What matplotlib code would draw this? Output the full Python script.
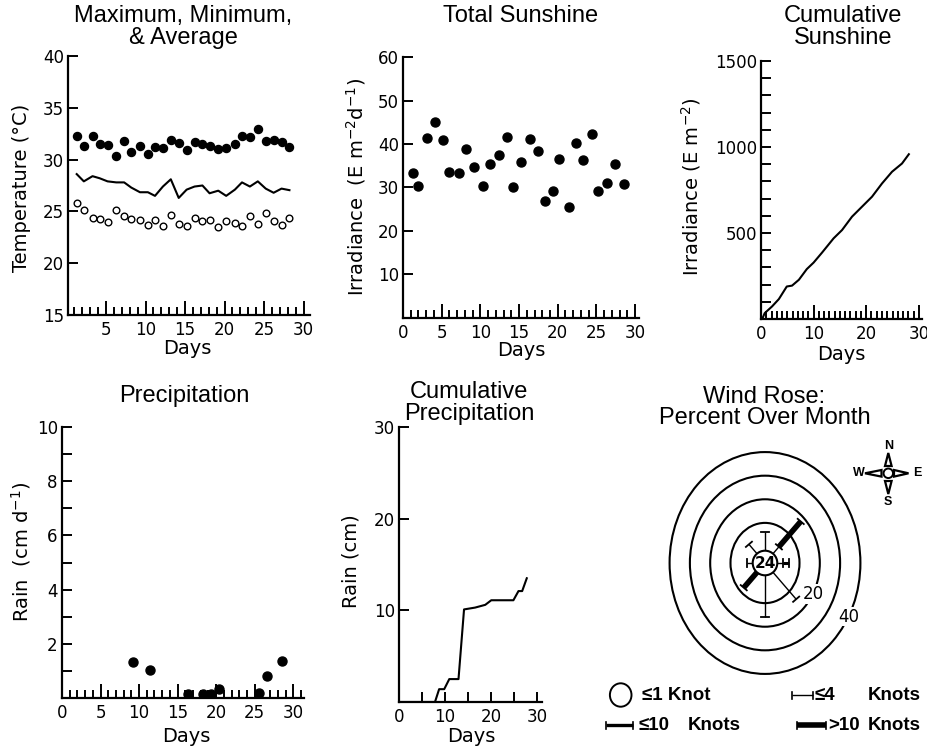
import matplotlib
matplotlib.use('Agg')
import matplotlib.pyplot as plt
from matplotlib.patches import Ellipse, Polygon
from matplotlib.ticker import FixedLocator
import numpy as np

plt.rcParams['font.family'] = ['DejaVu Sans']
plt.rcParams['mathtext.fontset'] = 'dejavusans'

W, H = 928, 748
fig = plt.figure(figsize=(W / 100, H / 100), dpi=100)

# ---------------- data ----------------
temp_days = [1.3, 2.2, 3.3, 4.2, 5.2, 6.3, 7.3, 8.2, 9.3, 10.3, 11.2, 12.2, 13.2, 14.2,
             15.2, 16.2, 17.2, 18.1, 19.2, 20.2, 21.3, 22.2, 23.2, 24.2, 25.2, 26.2, 27.2, 28.2]
temp_max = [32.25, 31.3, 32.3, 31.5, 31.45, 30.3, 31.8, 30.7, 31.3, 30.5, 31.25, 31.1, 31.9, 31.6,
            30.9, 31.7, 31.5, 31.3, 31.0, 31.1, 31.5, 32.25, 32.15, 33.0, 31.8, 31.85, 31.7, 31.2]
temp_min = [25.8, 25.15, 24.4, 24.3, 23.95, 25.1, 24.6, 24.3, 24.2, 23.7, 24.2, 23.6, 24.7, 23.8,
            23.6, 24.4, 24.1, 24.2, 23.45, 24.1, 23.85, 23.6, 24.6, 23.8, 24.8, 24.1, 23.7, 24.35]
temp_avg = [28.6, 27.9, 28.4, 28.2, 27.9, 27.8, 27.8, 27.3, 26.85, 26.85, 26.5, 27.4, 28.1, 26.3,
            27.1, 27.4, 27.5, 26.75, 27.0, 26.5, 27.1, 27.8, 27.4, 27.9, 27.2, 26.8, 27.2, 27.05]

sun_days = [1.3, 2.0, 3.1, 4.2, 5.15, 6.0, 7.3, 8.15, 9.2, 10.3, 11.3, 12.4, 13.5, 14.2,
            15.2, 16.4, 17.5, 18.3, 19.4, 20.2, 21.4, 22.3, 23.3, 24.4, 25.2, 26.4, 27.4, 28.5]
sun_daily = [33.4, 30.35, 41.3, 45.0, 41.0, 33.5, 33.3, 38.9, 34.6, 30.35, 35.3, 37.5, 41.5, 30.0,
             35.9, 41.1, 38.3, 26.9, 29.2, 36.6, 25.6, 40.3, 36.3, 42.3, 29.2, 31.0, 35.5, 30.8]

cumsun_days = [0.3, 0.7, 2.1, 3.4, 4.9, 5.9, 7.2, 8.7, 10.0, 11.6, 13.8, 15.4, 17.3, 19.2,
               21.1, 23.0, 24.9, 26.8, 28.1]
cumsun_vals = [5, 34, 73, 116, 189, 194, 228, 290, 328, 386, 469, 517, 595, 653,
               711, 788, 856, 904, 958]

rain_days = [9.2, 11.4, 16.3, 18.3, 19.3, 20.4, 25.5, 26.6, 28.5]
rain_daily = [1.33, 1.02, 0.13, 0.13, 0.13, 0.32, 0.18, 0.82, 1.35]

cumrain_days = [0.0, 7.8, 8.7, 9.8, 10.9, 12.9, 14.1, 16.5, 18.7, 20.0, 24.8, 25.9, 26.7, 27.7]
cumrain_vals = [0.0, 0.0, 1.4, 1.4, 2.5, 2.5, 10.1, 10.3, 10.6, 11.1, 11.1, 12.1, 12.1, 13.5]

# wind rose: percent of month per direction and speed class (segment lengths)
wind_dirs = ['N', 'NE', 'E', 'SE', 'S', 'SW', 'W', 'NW']
wind_angles = [90, 45, 0, -45, -90, -135, 180, 135]
wind_le4 = [6.3, 2.7, 2.0, 14.7, 15.8, 0.0, 2.0, 4.2]
wind_le10 = [0.0, 0.0, 2.8, 0.0, 0.0, 0.0, 0.0, 0.0]
wind_gt10 = [0.0, 15.2, 0.0, 0.0, 0.0, 7.8, 0.0, 0.0]
calm_pct = 24
ring_levels = [10, 20, 30, 40]
ring_labelled = [20, 40]

# ---------------- helpers ----------------
TICK = 12
LAB = 14
TITLE = 17
TFAM = ['Liberation Sans', 'DejaVu Sans']


def px_axes(l, t, r, b):
    ax = fig.add_axes([l / W, 1 - b / H, (r - l) / W, (b - t) / H])
    ax.patch.set_alpha(0)
    return ax


def style(ax, xmaj, xmin_, ymaj, ymin_, xlabels, ylabels):
    for s in ['top', 'right']:
        ax.spines[s].set_visible(False)
    for s in ['left', 'bottom']:
        ax.spines[s].set_linewidth(1.6)
    ax.xaxis.set_major_locator(FixedLocator(xmaj))
    ax.xaxis.set_minor_locator(FixedLocator(xmin_))
    ax.yaxis.set_major_locator(FixedLocator(ymaj))
    ax.yaxis.set_minor_locator(FixedLocator(ymin_))
    ax.set_xticklabels(xlabels)
    ax.set_yticklabels(ylabels)
    ax.tick_params(which='both', direction='in', width=1.4, labelsize=TICK)
    ax.tick_params(axis='x', which='major', length=10, pad=4)
    ax.tick_params(axis='x', which='minor', length=6)
    ax.tick_params(axis='y', which='both', length=7, pad=3)


def ftext(x, y, s, **kw):
    fig.text(x / W, 1 - y / H, s, **kw)


def title(x, y, s):
    ftext(x, y, s, ha='center', va='center', fontsize=TITLE, family=TFAM)


def ylab(x, y, s):
    ftext(x, y, s, ha='center', va='center', rotation=90, fontsize=LAB)


def xlab(x, y, s):
    ftext(x, y, s, ha='center', va='center', fontsize=LAB)


LW = 1.5

# ---------------- panel 1: temperature ----------------
ax1 = px_axes(68, 56, 310, 315)
ax1.plot(temp_days, temp_max, 'o', color='k', ms=5.8)
ax1.plot(temp_days, temp_min, 'o', mfc='white', mec='k', mew=1.0, ms=4.8)
ax1.plot(temp_days, temp_avg, '-', color='k', lw=LW)
ax1.set_xlim(0.2, 30.8)
ax1.set_ylim(15, 40)
style(ax1, list(range(5, 31, 5)), [d for d in range(1, 31) if d % 5],
      list(range(15, 41, 5)), [], [str(v) for v in range(5, 31, 5)],
      [str(v) for v in range(15, 41, 5)])
title(183, 16, 'Maximum, Minimum,')
title(183, 38, '& Average')
ylab(22, 188, 'Temperature (°C)')
xlab(187, 349, 'Days')

# ---------------- panel 2: total sunshine ----------------
ax2 = px_axes(403, 57, 639, 318)
ax2.plot(sun_days, sun_daily, 'o', color='k', ms=6.5)
ax2.set_xlim(0, 30.5)
ax2.set_ylim(0, 60)
style(ax2, list(range(0, 31, 5)), [d for d in range(1, 31) if d % 5],
      list(range(10, 61, 10)), [], [str(v) for v in range(0, 31, 5)],
      [str(v) for v in range(10, 61, 10)])
title(521, 16, 'Total Sunshine')
ylab(356, 187, 'Irradiance  (E m$^{-2}$d$^{-1}$)')
xlab(521, 350, 'Days')

# ---------------- panel 3: cumulative sunshine ----------------
ax3 = px_axes(761, 61, 922, 319)
ax3.plot(cumsun_days, cumsun_vals, '-', color='k', lw=LW)
ax3.set_xlim(0, 30.6)
ax3.set_ylim(0, 1500)
style(ax3, [0, 10, 20, 30], [d for d in range(1, 31) if d % 10],
      [500, 1000, 1500], [v for v in range(100, 1500, 100) if v % 500],
      ['0', '10', '20', '30'], ['500', '1000', '1500'])
title(843, 16, 'Cumulative')
title(843, 38, 'Sunshine')
ylab(691, 187, 'Irradiance (E m$^{-2}$)')
xlab(841, 354, 'Days')

# ---------------- panel 4: precipitation ----------------
ax4 = px_axes(62, 427, 304, 698)
ax4.plot(rain_days, rain_daily, 'o', color='k', ms=6.5)
ax4.set_xlim(0, 31.4)
ax4.set_ylim(0, 10)
style(ax4, list(range(0, 31, 5)), [d for d in range(1, 32) if d % 5],
      [2, 4, 6, 8, 10], [1, 3, 5, 7, 9], [str(v) for v in range(0, 31, 5)],
      ['2', '4', '6', '8', '10'])
title(184, 396, 'Precipitation')
ylab(21, 552, 'Rain  (cm d$^{-1}$)')
xlab(186, 736, 'Days')

# ---------------- panel 5: cumulative precipitation ----------------
ax5 = px_axes(399, 427, 542, 702)
ax5.plot(cumrain_days, cumrain_vals, '-', color='k', lw=LW)
ax5.set_xlim(0, 31)
ax5.set_ylim(0, 30)
style(ax5, [0, 10, 20, 30], [5, 15, 25], [10, 20, 30], [],
      ['0', '10', '20', '30'], ['10', '20', '30'])
ax5.tick_params(axis='x', which='both', length=7)
title(469, 392, 'Cumulative')
title(469, 414, 'Precipitation')
ylab(351, 561, 'Rain (cm)')
xlab(471, 736, 'Days')

# ---------------- panel 6: wind rose ----------------
title(764, 397, 'Wind Rose:')
title(765, 418, 'Percent Over Month')

rl, rt, rr, rb = 655, 445, 875, 683
axr = px_axes(rl, rt, rr, rb)
axr.axis('off')
sx = 2.03   # px per unit horizontally
sy = 2.36   # px per unit vertically
cy = 563
axr.set_xlim(-(765 - rl) / sx, (rr - 765) / sx)
axr.set_ylim(-(rb - cy) / sy, (cy - rt) / sy)
R0 = 7.0
for p in ring_levels:
    r = R0 + p
    axr.add_patch(Ellipse((0, 0), 2 * r, 2 * r, fill=False, lw=1.5, ec='k'))
for p in ring_labelled:
    r = R0 + p
    a = np.deg2rad(-29)
    axr.text(r * np.cos(a), r * np.sin(a), str(p), fontsize=TICK, ha='center', va='center',
             bbox=dict(fc='white', ec='none', pad=0.5), zorder=5)

calm_r_px = 12.3
axr.add_patch(Ellipse((0, 0), 2 * calm_r_px / sx, 2 * calm_r_px / sy, fill=True,
                      fc='white', lw=1.5, ec='k', zorder=4))
axr.text(0, 0, str(calm_pct), fontsize=11, fontweight='bold', ha='center', va='center', zorder=6)

cap_px = 4.0
for ang, a4, a10, a11 in zip(wind_angles, wind_le4, wind_le10, wind_gt10):
    th = np.deg2rad(ang)
    c, s = np.cos(th), np.sin(th)
    L = np.hypot(sx * c, sy * s)
    ux, uy = sx * c / L, sy * s / L
    nx, ny = -uy, ux
    start = calm_r_px / L
    cum = 0.0
    for seg, lw in ((a4, 1.0), (a10, 2.2), (a11, 4.0)):
        if seg <= 0:
            continue
        r0 = max(start, R0 + cum) if cum > 0 else start
        cum += seg
        r1 = R0 + cum
        axr.plot([r0 * c, r1 * c], [r0 * s, r1 * s], color='k', lw=lw,
                 solid_capstyle='butt', zorder=3)
        ex, ey = r1 * c, r1 * s
        axr.plot([ex - nx * cap_px / sx, ex + nx * cap_px / sx],
                 [ey - ny * cap_px / sy, ey + ny * cap_px / sy], color='k', lw=1.3, zorder=3)

# ---------------- compass and legend (figure pixel overlay) ----------------
ov = px_axes(0, 0, W, H)
ov.set_xlim(0, W)
ov.set_ylim(H, 0)
ov.axis('off')

cx, ccy = 888.3, 473.3
ov.add_patch(Ellipse((cx, ccy), 9.5, 9.5, fill=False, lw=1.4, ec='k'))
tri_kw = dict(closed=True, fill=False, lw=1.6, ec='k')
ov.add_patch(Polygon([[cx, 453], [cx - 3.3, 466], [cx + 3.3, 466]], **tri_kw))
ov.add_patch(Polygon([[cx, 494], [cx - 3.3, 481], [cx + 3.3, 481]], **tri_kw))
ov.add_patch(Polygon([[908.5, ccy], [894, ccy - 3.3], [894, ccy + 3.3]], **tri_kw))
ov.add_patch(Polygon([[865, ccy], [881.5, ccy - 3.3], [881.5, ccy + 3.3]], **tri_kw))
ckw = dict(fontsize=9, fontweight='bold', ha='center', va='center', family=TFAM)
ov.text(cx, 446, 'N', **ckw)
ov.text(cx, 502, 'S', **ckw)
ov.text(917.5, ccy, 'E', **ckw)
ov.text(858.5, ccy, 'W', **ckw)

lkw = dict(fontsize=13.5, fontweight='bold', ha='left', va='center', family=TFAM)
y1, y2 = 695, 725
ov.add_patch(Ellipse((620.7, y1), 21.6, 23.4, fill=False, lw=1.4, ec='k'))
ov.text(642, y1, '≤1 Knot', **lkw)


def leg_line(x0, x1, y, lw):
    ov.plot([x0, x1], [y, y], color='k', lw=lw, solid_capstyle='butt')
    for x in (x0, x1):
        ov.plot([x, x], [y - 3.5, y + 3.5], color='k', lw=1.2)


leg_line(792, 813, y1, 1.0)
ov.text(815, y1, '≤4', **lkw)
ov.text(868, y1, 'Knots', **lkw)
leg_line(606, 633, y2, 2.4)
ov.text(639, y2, '≤10', **lkw)
ov.text(688, y2, 'Knots', **lkw)
leg_line(797, 826, y2, 4.0)
ov.text(828, y2, '>10', **lkw)
ov.text(868, y2, 'Knots', **lkw)

fig.savefig('out.png', dpi=100)
